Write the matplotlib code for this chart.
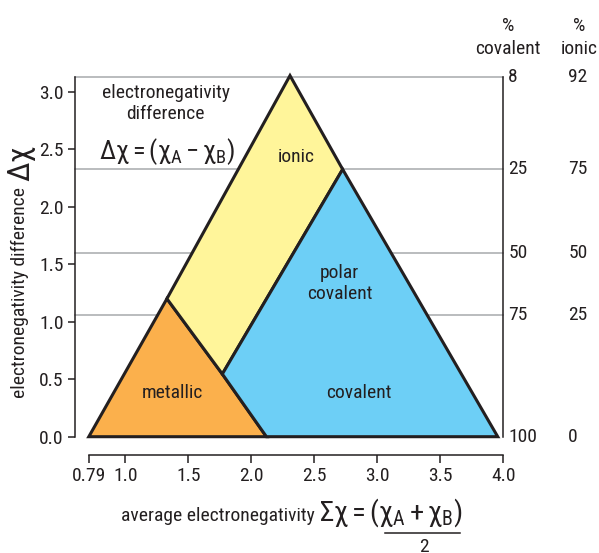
import matplotlib
matplotlib.use('Agg')
import matplotlib.pyplot as plt
from matplotlib import font_manager as fm

# pick a narrow sans face if there is one
faces = fm.fontManager.ttflist
names = {f.name for f in faces}
narrow = None
for cand in ['Liberation Sans Narrow', 'Roboto Condensed', 'Open Sans Condensed',
             'Noto Sans Condensed']:
    if cand in names:
        narrow = cand
        break
stretch = 'normal'
if narrow is None:
    for f in faces:
        if f.name in ('DejaVu Sans', 'Noto Sans', 'Open Sans') and 'ondensed' in str(f.stretch):
            narrow = f.name
            stretch = 'condensed'
            break
if narrow is None:
    narrow = 'Roboto'
plt.rcParams['font.family'] = [narrow, 'DejaVu Sans']
plt.rcParams['font.stretch'] = stretch
plt.rcParams['mathtext.fontset'] = 'custom'
plt.rcParams['mathtext.rm'] = narrow
plt.rcParams['mathtext.it'] = narrow
plt.rcParams['mathtext.bf'] = narrow

# axis ticks
x_ticks = [0.71, 1.0, 1.5, 2.0, 2.5, 3.0, 3.5, 4.0]
x_ticklabels = ['0.79', '1.0', '1.5', '2.0', '2.5', '3.0', '3.5', '4.0']
y_ticks = [0.0, 0.5, 1.0, 1.5, 2.0, 2.5, 3.0]

# % covalent / % ionic scale on the right
pct_levels = [3.13, 2.33, 1.60, 1.055, 0.0]
pct_covalent = ['8', '25', '50', '75', '100']
pct_ionic = ['92', '75', '50', '25', '0']

# bonding regions (average EN, EN difference)
metallic_x = [0.71, 1.33, 1.77, 2.12]
metallic_y = [0.0, 1.20, 0.545, 0.0]
ionic_x = [1.33, 2.307, 2.725, 1.77]
ionic_y = [1.20, 3.14, 2.325, 0.545]
covalent_x = [1.77, 2.725, 3.956, 2.12]
covalent_y = [0.545, 2.325, 0.0, 0.0]

dark = '#231f20'
fig = plt.figure(figsize=(5.99, 5.53), dpi=100)
ax = fig.add_axes([0.1247, 0.2103, 0.7155, 0.653])
ax.set_xlim(0.598, 4.0)
ax.set_ylim(0, 3.14)

# grey level lines
for lv in pct_levels[:-1]:
    ax.plot([0.598, 4.0], [lv, lv], color='#a7a9ac', lw=1.1, zorder=1, clip_on=False)

regions = [(metallic_x, metallic_y, '#fbb04c'),
           (ionic_x, ionic_y, '#fff59a'),
           (covalent_x, covalent_y, '#6dcff6')]
for xs, ys, col in regions:
    ax.fill(xs, ys, facecolor=col, edgecolor=dark, lw=2.2, joinstyle='miter',
            zorder=3, clip_on=False)

fs = 14
ax.text(1.37, 0.38, 'metallic', ha='center', va='center', fontsize=fs, color=dark, zorder=4)
ax.text(2.85, 0.38, 'covalent', ha='center', va='center', fontsize=fs, color=dark, zorder=4)
ax.text(2.70, 1.33, 'polar\ncovalent', ha='center', va='center', fontsize=fs,
        color=dark, linespacing=1.2, zorder=4)
ax.text(2.36, 2.43, 'ionic', ha='center', va='center', fontsize=fs, color=dark, zorder=4)
ax.text(1.32, 2.895, 'electronegativity\ndifference', ha='center', va='center',
        fontsize=fs, color=dark, linespacing=1.2)
ax.text(1.33, 2.48, r'$\Delta\chi = (\chi_{\mathrm{A}} - \chi_{\mathrm{B}})$',
        ha='center', va='center', fontsize=19, color=dark)

# right hand scale
for lv, c, i in zip(pct_levels, pct_covalent, pct_ionic):
    ax.text(4.04, lv, c, ha='left', va='center', fontsize=fs, color=dark, clip_on=False)
    ax.text(4.515, lv, i, ha='left', va='center', fontsize=fs, color=dark, clip_on=False)
ax.text(4.04, 3.47, '%\ncovalent', ha='center', va='center', fontsize=fs,
        color=dark, linespacing=1.35, clip_on=False)
ax.text(4.605, 3.47, '%\nionic', ha='center', va='center', fontsize=fs,
        color=dark, linespacing=1.35, clip_on=False)

# spines
for s in ['left', 'right', 'bottom']:
    ax.spines[s].set_color(dark)
    ax.spines[s].set_linewidth(1.1)
ax.spines['top'].set_visible(False)
ax.spines['left'].set_bounds(0, 3.13)
ax.spines['right'].set_bounds(0, 3.13)
ax.spines['bottom'].set_bounds(0.71, 4.0)
ax.spines['bottom'].set_position(('outward', 13))

ax.set_xticks(x_ticks)
ax.set_xticklabels(x_ticklabels)
ax.set_yticks(y_ticks)
ax.set_yticklabels(['%.1f' % v for v in y_ticks])
ax.tick_params(axis='x', length=6, width=1.1, color=dark, labelsize=fs,
               labelcolor=dark, pad=3)
ax.tick_params(axis='y', length=5, width=1.1, color=dark, labelsize=fs,
               labelcolor=dark, pad=3)

# axis titles
fig.text(20 / 599, 1 - 292 / 553, 'electronegativity difference', rotation=90,
         ha='center', va='center', fontsize=fs, color=dark)
fig.text(22 / 599, 1 - 163 / 553, r'$\Delta\chi$', rotation=90,
         ha='center', va='center', fontsize=23, color=dark)
fig.text(315 / 599, 1 - 521 / 553, 'average electronegativity', ha='right',
         va='baseline', fontsize=fs, color=dark)
fig.text(319 / 599, 1 - 521 / 553,
         r'$\Sigma\chi = (\chi_{\mathrm{A}} + \chi_{\mathrm{B}})$', ha='left',
         va='baseline', fontsize=20.5, color=dark)
fig.add_artist(plt.Line2D([385 / 599, 460 / 599], [1 - 533 / 553, 1 - 533 / 553],
                          color=dark, lw=1.1))
fig.text(424 / 599, 1 - 538 / 553, '2', ha='center', va='top', fontsize=fs, color=dark)

fig.savefig('out.png', dpi=100)
